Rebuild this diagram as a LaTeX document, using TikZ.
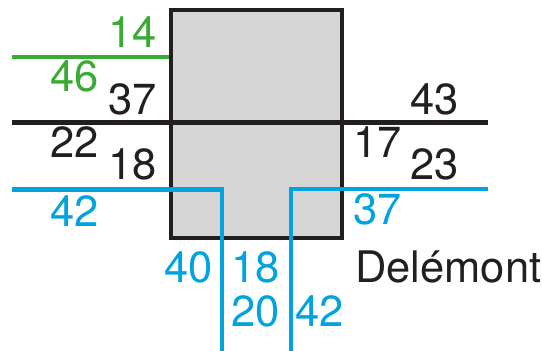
\documentclass[tikz,border=0pt]{standalone}
\usepackage{fontspec}
\setmainfont{TeX Gyre Heros}
\definecolor{lgreen}{RGB}{58,170,53}
\definecolor{lblue}{RGB}{0,163,224}
\definecolor{lblack}{RGB}{35,31,32}
\definecolor{lgray}{RGB}{214,214,214}
\begin{document}
\begin{tikzpicture}[x=1pt,y=1pt,
  lbl/.style={inner sep=0pt, anchor=base east, font=\fontsize{43.5}{50}\selectfont},
  lineg/.style={draw=lgreen, line width=4.8pt},
  linek/.style={draw=lblack, line width=4.8pt},
  lineb/.style={draw=lblue, line width=4.8pt, miter limit=10}]
\useasboundingbox (0,0) rectangle (542,351);
\node[draw=lblack, fill=lgray, line width=4.8pt, inner sep=0pt, minimum width=171pt, minimum height=228pt] (box) at (256.5,227) {};
% coordinates
\coordinate (gL) at (12,294);
\coordinate (kL) at (12,228.5);
\coordinate (kR) at (488,228.5);
\coordinate (bL) at (12,161.7);
\coordinate (bLc) at (222,161.7);
\coordinate (bLd) at (222,-2);
\coordinate (bR) at (488,162);
\coordinate (bRc) at (291,162);
\coordinate (bRd) at (291,-2);
\draw[lineg] (gL) -- (gL -| box.west);
\draw[linek] (kL) -- (kR);
\draw[lineb] (bL) -- (bLc) -- (bLd);
\draw[lineb] (bR) -- (bRc) -- (bRd);
% labels
\node[lbl, text=lgreen] (t14) at (157,303) {14};
\node[lbl, text=lgreen] (t46) at (99,259) {46};
\node[lbl, text=lblack] (t37) at (157,236) {37};
\node[lbl, text=lblack] (t22) at (99,193) {22};
\node[lbl, text=lblack] (t18) at (157,171) {18};
\node[lbl, text=lblue] (t42a) at (99,124) {42};
\node[lbl, text=lblue] (t40) at (213,68) {40};
\node[lbl, text=lblue] (t18b) at (280,68) {18};
\node[lbl, text=lblue] (t20) at (280,24) {20};
\node[lbl, text=lblue] (t42b) at (344,24) {42};
\node[lbl, text=lblue] (t37b) at (402,126) {37};
\node[lbl, text=lblack, anchor=base west] (del) at (355,68) {Delémont};
\node[lbl, text=lblack] (t43) at (459,236) {43};
\node[lbl, text=lblack] (t17) at (402,193) {17};
\node[lbl, text=lblack] (t23) at (459,171) {23};
\end{tikzpicture}
\end{document}
